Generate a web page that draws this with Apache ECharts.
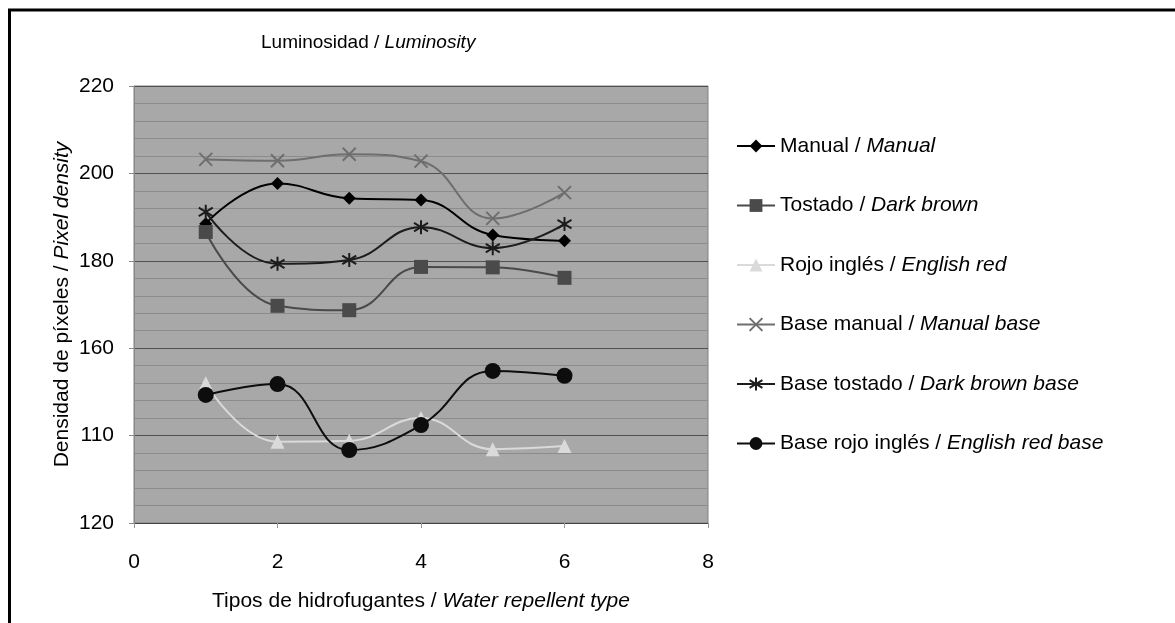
<!DOCTYPE html>
<html>
<head>
<meta charset="utf-8">
<script src="https://cdn.jsdelivr.net/npm/echarts@6/dist/echarts.min.js"></script>
<style>
  html, body { margin: 0; padding: 0; background: #fff; }
  #chart { width: 1175px; height: 623px; }
</style>
</head>
<body>
<div id="chart"></div>
<script>
// tipos de hidrofugantes (eje x)
var xValues = [1, 2, 3, 4, 5, 6];
var manual      = [188.5, 197.7, 194.3, 193.9, 185.9, 184.6];
var tostado     = [186.6, 169.7, 168.7, 178.6, 178.5, 176.1];
var rojoIngles  = [152.0, 138.6, 138.8, 144.0, 136.9, 137.6];
var baseManual  = [203.2, 202.9, 204.4, 202.8, 189.7, 195.6];
var baseTostado = [191.2, 179.3, 180.2, 187.7, 182.9, 188.4];
var baseRojo    = [149.3, 151.8, 136.7, 142.4, 154.8, 153.7];
// etiquetas del eje y tal como aparecen (120, 140, 160, ...)
var yTickLabels = ['120', '110', '160', '180', '200', '220'];
var names = [
    ['Manual', 'Manual'],
    ['Tostado', 'Dark brown'],
    ['Rojo inglés', 'English red'],
    ['Base manual', 'Manual base'],
    ['Base tostado', 'Dark brown base'],
    ['Base rojo inglés', 'English red base']
];

function pairs(vals) {
    return xValues.map(function (x, i) { return [x, vals[i]]; });
}

var font = '"Liberation Sans", Arial, sans-serif';
var crossPath = 'path://M0,0 L10,10 M10,0 L0,10';
var starPath = 'path://M5,0 L5,10 M0,2 L10,8 M0,8 L10,2';

function mkSeries(idx, vals, color, symbol, size, stroked) {
    return {
        name: names[idx][0] + ' / ' + names[idx][1],
        type: 'line',
        data: pairs(vals),
        smooth: 0.45,
        symbol: symbol,
        symbolSize: size,
        showAllSymbol: true,
        lineStyle: { color: color, width: 2 },
        itemStyle: stroked
            ? { color: color, borderColor: color, borderWidth: 2 }
            : { color: color, borderWidth: 0 },
        emphasis: { disabled: true }
    };
}

var myChart = echarts.init(document.getElementById('chart'));
var option = {
    animation: false,
    backgroundColor: '#fff',
    textStyle: { fontFamily: font },
    title: {
        text: '{a|Luminosidad / }{b|Luminosity}',
        left: 261,
        top: 33,
        padding: 0,
        textStyle: {
            fontWeight: 'normal',
            rich: {
                a: { fontSize: 19, color: '#000', fontWeight: 'normal', fontFamily: font },
                b: { fontSize: 19, color: '#000', fontWeight: 'normal', fontStyle: 'italic', fontFamily: font }
            }
        }
    },
    legend: {
        orient: 'vertical',
        left: 736,
        top: 134,
        padding: 0,
        itemWidth: 38,
        itemHeight: 16,
        itemGap: 35.5,
        formatter: function (n) {
            var p = n.split(' / ');
            return '{a|' + p[0] + ' / }{b|' + p[1] + '}';
        },
        textStyle: {
            lineHeight: 24,
            rich: {
                a: { fontSize: 21, color: '#000', fontFamily: font, lineHeight: 24 },
                b: { fontSize: 21, color: '#000', fontStyle: 'italic', fontFamily: font, lineHeight: 24 }
            }
        }
    },
    grid: {
        left: 134,
        top: 86,
        right: 467,
        bottom: 100,
        show: true,
        backgroundColor: '#a8a8a8',
        borderColor: '#808080',
        borderWidth: 1
    },
    xAxis: {
        type: 'value',
        min: 0,
        max: 8,
        interval: 2,
        name: '{a|Tipos de hidrofugantes / }{b|Water repellent type}',
        nameLocation: 'middle',
        nameGap: 68,
        nameTextStyle: {
            rich: {
                a: { fontSize: 21, color: '#000', fontFamily: font },
                b: { fontSize: 21, color: '#000', fontStyle: 'italic', fontFamily: font }
            }
        },
        axisLine: { show: true, onZero: false, lineStyle: { color: '#444', width: 1 } },
        axisTick: { show: true, length: 5, lineStyle: { color: '#999' } },
        axisLabel: { fontSize: 21, color: '#000', margin: 29, fontFamily: font },
        splitLine: { show: false }
    },
    yAxis: {
        type: 'value',
        min: 120,
        max: 220,
        interval: 20,
        name: '{a|Densidad de píxeles / }{b|Pixel density}',
        nameLocation: 'middle',
        nameGap: 61,
        nameTextStyle: {
            rich: {
                a: { fontSize: 21, color: '#000', fontFamily: font },
                b: { fontSize: 21, color: '#000', fontStyle: 'italic', fontFamily: font }
            }
        },
        axisLine: { show: true, lineStyle: { color: '#888', width: 1 } },
        axisTick: { show: true, length: 5, lineStyle: { color: '#888' } },
        axisLabel: {
            fontSize: 21,
            color: '#000',
            margin: 20,
            fontFamily: font,
            formatter: function (v) { return yTickLabels[Math.round((v - 120) / 20)]; }
        },
        splitLine: { show: true, lineStyle: { color: '#505050', width: 1 } },
        minorTick: { show: false, splitNumber: 5 },
        minorSplitLine: { show: true, lineStyle: { color: '#8c8c8c', width: 1 } }
    },
    graphic: [{
        type: 'polyline',
        shape: { points: [[9.5, 623], [9.5, 10], [1175, 10]] },
        style: { stroke: '#000', lineWidth: 3, fill: null },
        silent: true
    }],
    series: [
        mkSeries(0, manual, '#000000', 'diamond', 13, false),
        mkSeries(1, tostado, '#4a4a4a', 'rect', 14, false),
        mkSeries(2, rojoIngles, '#dadada', 'triangle', 14, false),
        mkSeries(3, baseManual, '#6e6e6e', crossPath, 13, true),
        mkSeries(4, baseTostado, '#1c1c1c', starPath, 14, true),
        mkSeries(5, baseRojo, '#0d0d0d', 'circle', 16, false)
    ]
};
myChart.setOption(option);
</script>
</body>
</html>
